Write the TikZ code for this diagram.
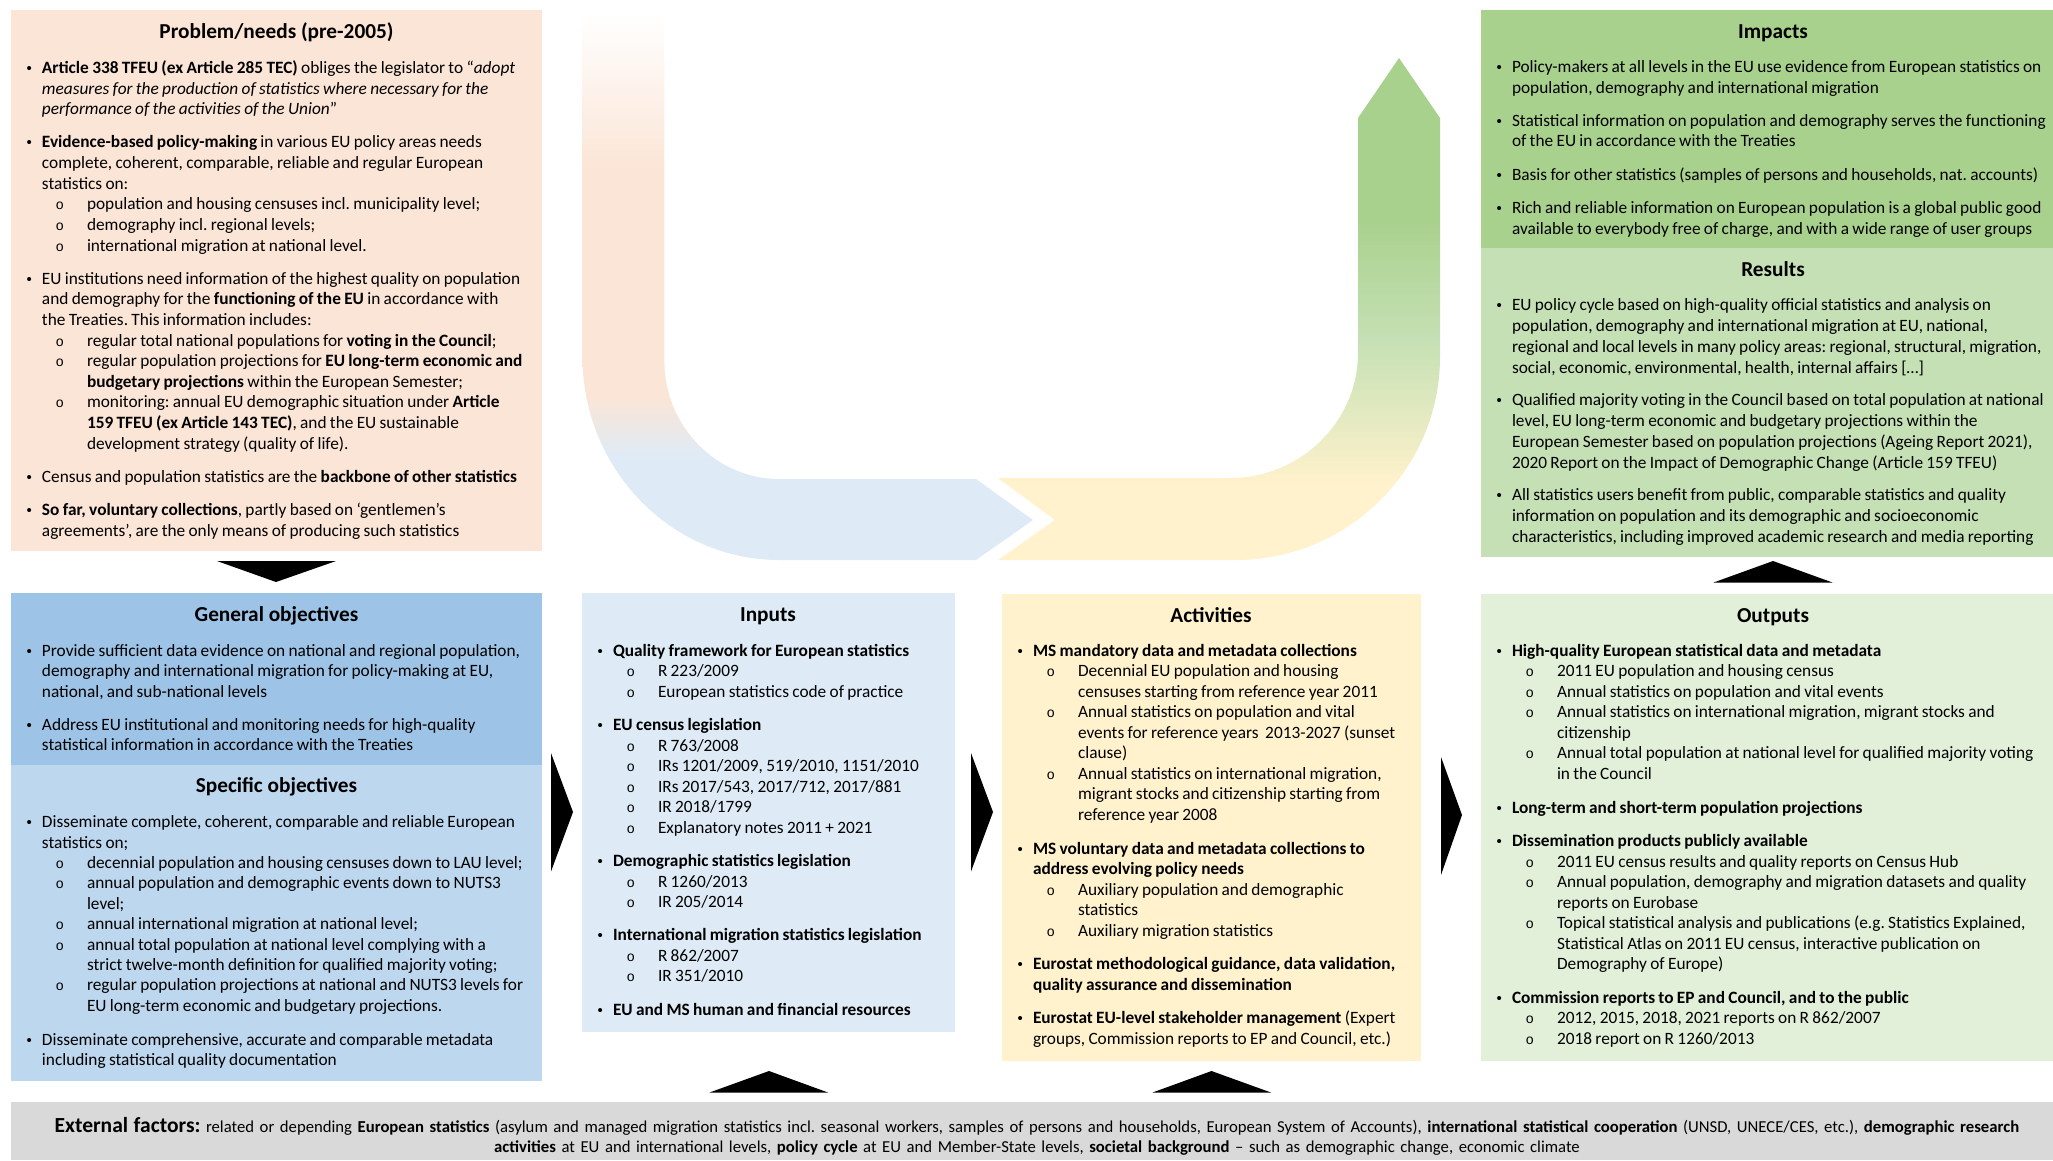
\documentclass[tikz,border=0pt]{standalone}
\usepackage{fontspec}
\setmainfont{Carlito}
\newfontfamily\monof{Liberation Mono}
\newfontfamily\bulf{Liberation Sans}
\frenchspacing
\definecolor{cProb}{HTML}{FBE5D6}
\definecolor{cGen}{HTML}{9DC3E6}
\definecolor{cSpec}{HTML}{BDD7EE}
\definecolor{cInp}{HTML}{DEEBF7}
\definecolor{cAct}{HTML}{FFF2CC}
\definecolor{cOut}{HTML}{E2F0D9}
\definecolor{cImp}{HTML}{A9D18E}
\definecolor{cRes}{HTML}{C5E0B4}
\definecolor{cExt}{HTML}{D9D9D9}
\pgfdeclareverticalshading{leftbend}{100bp}{color(0bp)=(cInp); color(25bp)=(cInp); color(34.2bp)=(cInp); color(40.1bp)=(cProb); color(60.6bp)=(cProb); color(75bp)=(white); color(100bp)=(white)}
\pgfdeclareverticalshading{rightbend}{100bp}{color(0bp)=(cAct); color(25bp)=(cAct); color(32.5bp)=(cAct); color(47.1bp)=(cRes); color(58.7bp)=(cImp); color(75bp)=(cImp); color(100bp)=(cImp)}
\newcommand\bodysize{17.3}
\newcommand\parGap{12.5pt}
\newcommand\pitch[2]{\fontsize{\bodysize}{#1}\selectfont\frenchspacing\def\parGap{#2pt}\parskip=0pt\rightskip=0pt plus 1fil\relax\let\\\newline}
\newcommand\fs{\rule{0pt}{15pt}}
\newcommand\itemF[1]{\par\noindent\hangindent=31pt\hangafter=1\makebox[31pt][l]{\hspace{15.5pt}{\bulf\fontsize{15}{15}\selectfont •}}\fs #1\par}
\newcommand\itemA[1]{\par\vskip\parGap\itemF{#1}}
\newcommand\itemB[1]{\par\noindent\hangindent=76pt\hangafter=1\makebox[76pt][l]{\hspace{44.5pt}{\monof\fontsize{14}{14}\selectfont o}}\fs #1\par}
\tikzset{
  panel/.style 2 args={anchor=north west,inner sep=0,outer sep=0,minimum width=#1,minimum height=#2},
  ptitle/.style={anchor=base,inner sep=0,font=\fontsize{21.3}{24}\selectfont\bfseries},
  pbody/.style={anchor=north west,inner sep=0,outer sep=0,text width=#1,align=left},
  blockarrow/.style={fill=black,draw=none}
}
\begin{document}
\begin{tikzpicture}[x=1pt,y=-1pt]
\useasboundingbox (0,0) rectangle (2053,1160);

% U-shaped background arrows
\shade[shading=leftbend] (582.5,13) -- (582.5,357) .. controls (582.5,469) and (671,560) .. (779,560)
  -- (976,560) -- (1033,520) -- (976,479) -- (779,479) .. controls (716,479) and (664.4,426) .. (664.4,361)
  -- (664.4,13) -- cycle;
\shade[shading=rightbend] (998,560) -- (1055,520) -- (998,478) -- (1230,478) .. controls (1300,478) and (1358,422) .. (1358,353)
  -- (1358,118) -- (1399,58) -- (1440,118) -- (1440,357) .. controls (1440,469) and (1348,560) .. (1236,560) -- cycle;

% Panels
\node[panel={531pt}{541pt},fill=cProb] (prob) at (11,10) {};
\node[panel={531pt}{172pt},fill=cGen] (gen) at (11,593) {};
\node[panel={531pt}{315.5pt},fill=cSpec] (spec) at (11,765) {};
\node[panel={373pt}{439pt},fill=cInp] (inp) at (582,593) {};
\node[panel={419pt}{466.5pt},fill=cAct] (act) at (1002,594) {};
\node[panel={572pt}{466.5pt},fill=cOut] (out) at (1481,594) {};
\node[panel={572pt}{238pt},fill=cImp] (imp) at (1481,10) {};
\node[panel={572pt}{309pt},fill=cRes] (res) at (1481,248) {};
\node[panel={2042pt}{58pt},fill=cExt] (ext) at (11,1102) {};

% Block arrows
\fill[blockarrow] (217,561) -- (336,561) -- (276,582) -- cycle;
\fill[blockarrow] (1713.5,582.5) -- (1832.5,582.5) -- (1773,561) -- cycle;
\fill[blockarrow] (551,753) -- (573,812) -- (551,871.5) -- cycle;
\fill[blockarrow] (971,753) -- (993,812) -- (971,871.5) -- cycle;
\fill[blockarrow] (1441,757) -- (1462,815) -- (1441,875) -- cycle;
\fill[blockarrow] (709.5,1092.5) -- (828,1092.5) -- (769,1071) -- cycle;
\fill[blockarrow] (1152.5,1092.5) -- (1271,1092.5) -- (1211.5,1071) -- cycle;

% Titles
\node[ptitle] (tProb) at (276.5,38) {Problem/needs (pre-2005)};
\node[ptitle] (tGen) at (276.5,621) {General objectives};
\node[ptitle] (tSpec) at (276.5,792.5) {Specific objectives};
\node[ptitle] (tInp) at (768,621.5) {Inputs};
\node[ptitle] (tAct) at (1211,622.5) {Activities};
\node[ptitle] (tOut) at (1773,622.5) {Outputs};
\node[ptitle] (tImp) at (1773,38) {Impacts};
\node[ptitle] (tRes) at (1773,276.5) {Results};

% Problem
\node[pbody=531pt] (bProb) at (11,53) {\pitch{20.62}{12.5}%
\itemF{\textbf{Article 338 TFEU (ex Article 285 TEC)} obliges the legislator to “\textit{adopt}\\
\textit{measures for the production of statistics where necessary for the}\\
\textit{performance of the activities of the Union}”}
\itemA{\textbf{Evidence-based policy-making} in various EU policy areas needs\\
complete, coherent, comparable, reliable and regular European\\
statistics on:}
\itemB{population and housing censuses incl. municipality level;}
\itemB{demography incl. regional levels;}
\itemB{international migration at national level.}
\itemA{EU institutions need information of the highest quality on population\\
and demography for the \textbf{functioning of the EU} in accordance with\\
the Treaties. This information includes:}
\itemB{regular total national populations for \textbf{voting in the Council};}
\itemB{regular population projections for \textbf{EU long-term economic and}\\
\textbf{budgetary projections} within the European Semester;}
\itemB{monitoring: annual EU demographic situation under \textbf{Article}\\
\textbf{159 TFEU (ex Article 143 TEC)}, and the EU sustainable\\
development strategy (quality of life).}
\itemA{Census and population statistics are the \textbf{backbone of other statistics}}
\itemA{\textbf{So far, voluntary collections}, partly based on ‘gentlemen’s\\
agreements’, are the only means of producing such statistics}
};

% General objectives
\node[pbody=531pt] (bGen) at (11,635.5) {\pitch{20.5}{12.8}%
\itemF{Provide sufficient data evidence on national and regional population,\\
demography and international migration for policy-making at EU,\\
national, and sub-national levels}
\itemA{Address EU institutional and monitoring needs for high-quality\\
statistical information in accordance with the Treaties}
};

% Specific objectives
\node[pbody=531pt] (bSpec) at (11,807.2) {\pitch{20.4}{13.6}%
\itemF{Disseminate complete, coherent, comparable and reliable European\\
statistics on;}
\itemB{decennial population and housing censuses down to LAU level;}
\itemB{annual population and demographic events down to NUTS3\\
level;}
\itemB{annual international migration at national level;}
\itemB{annual total population at national level complying with a\\
strict twelve-month definition for qualified majority voting;}
\itemB{regular population projections at national and NUTS3 levels for\\
EU long-term economic and budgetary projections.}
\itemA{Disseminate comprehensive, accurate and comparable metadata\\
including statistical quality documentation}
};

% Inputs
\node[pbody=373pt] (bInp) at (582,635.9) {\pitch{20.5}{12.8}%
\itemF{\textbf{Quality framework for European statistics}}
\itemB{R 223/2009}
\itemB{European statistics code of practice}
\itemA{\textbf{EU census legislation}}
\itemB{R 763/2008}
\itemB{IRs 1201/2009, 519/2010, 1151/2010}
\itemB{IRs 2017/543, 2017/712, 2017/881}
\itemB{IR 2018/1799}
\itemB{Explanatory notes 2011 + 2021}
\itemA{\textbf{Demographic statistics legislation}}
\itemB{R 1260/2013}
\itemB{IR 205/2014}
\itemA{\textbf{International migration statistics legislation}}
\itemB{R 862/2007}
\itemB{IR 351/2010}
\itemA{\textbf{EU and MS human and financial resources}}
};

% Activities
\node[pbody=419pt] (bAct) at (1002,635.9) {\pitch{20.5}{13.1}%
\itemF{\textbf{MS mandatory data and metadata collections}}
\itemB{Decennial EU population and housing\\
censuses starting from reference year 2011}
\itemB{Annual statistics on population and vital\\
events for reference years\ \ 2013-2027 (sunset\\
clause)}
\itemB{Annual statistics on international migration,\\
migrant stocks and citizenship starting from\\
reference year 2008}
\itemA{\textbf{MS voluntary data and metadata collections to}\\
\textbf{address evolving policy needs}}
\itemB{Auxiliary population and demographic\\
statistics}
\itemB{Auxiliary migration statistics}
\itemA{\textbf{Eurostat methodological guidance, data validation,}\\
\textbf{quality assurance and dissemination}}
\itemA{\textbf{Eurostat EU-level stakeholder management} (Expert\\
groups, Commission reports to EP and Council, etc.)}
};

% Outputs
\node[pbody=572pt] (bOut) at (1481,635.9) {\pitch{20.5}{13.1}%
\itemF{\textbf{High-quality European statistical data and metadata}}
\itemB{2011 EU population and housing census}
\itemB{Annual statistics on population and vital events}
\itemB{Annual statistics on international migration, migrant stocks and\\
citizenship}
\itemB{Annual total population at national level for qualified majority voting\\
in the Council}
\itemA{\textbf{Long-term and short-term population projections}}
\itemA{\textbf{Dissemination products publicly available}}
\itemB{2011 EU census results and quality reports on Census Hub}
\itemB{Annual population, demography and migration datasets and quality\\
reports on Eurobase}
\itemB{Topical statistical analysis and publications (e.g. Statistics Explained,\\
Statistical Atlas on 2011 EU census, interactive publication on\\
Demography of Europe)}
\itemA{\textbf{Commission reports to EP and Council, and to the public}}
\itemB{2012, 2015, 2018, 2021 reports on R 862/2007}
\itemB{2018 report on R 1260/2013}
};

% Impacts
\node[pbody=572pt] (bImp) at (1481,52.8) {\pitch{20.1}{13.5}%
\itemF{Policy-makers at all levels in the EU use evidence from European statistics on\\
population, demography and international migration}
\itemA{Statistical information on population and demography serves the functioning\\
of the EU in accordance with the Treaties}
\itemA{Basis for other statistics (samples of persons and households, nat. accounts)}
\itemA{Rich and reliable information on European population is a global public good\\
available to everybody free of charge, and with a wide range of user groups}
};

% Results
\node[pbody=572pt] (bRes) at (1481,289.9) {\pitch{20.8}{11.9}%
\itemF{EU policy cycle based on high-quality official statistics and analysis on\\
population, demography and international migration at EU, national,\\
regional and local levels in many policy areas: regional, structural, migration,\\
social, economic, environmental, health, internal affairs […]}
\itemA{Qualified majority voting in the Council based on total population at national\\
level, EU long-term economic and budgetary projections within the\\
European Semester based on population projections (Ageing Report 2021),\\
2020 Report on the Impact of Demographic Change (Article 159 TFEU)}
\itemA{All statistics users benefit from public, comparable statistics and quality\\
information on population and its demographic and socioeconomic\\
characteristics, including improved academic research and media reporting}
};

% External factors
\node[anchor=north,inner sep=0,text width=2030pt,align=center,font=\fontsize{16.7}{20.6}\selectfont\frenchspacing] (bExt) at (1037,1116.9) {\rule{0pt}{15pt}{\fontsize{21.5}{20.6}\selectfont\textbf{External factors:}} related or depending \textbf{European statistics} (asylum and managed migration statistics incl. seasonal workers, samples of persons and households, European System of Accounts), \textbf{international statistical cooperation} (UNSD, UNECE/CES, etc.), \textbf{demographic research}\\
\textbf{activities} at EU and international levels, \textbf{policy cycle} at EU and Member-State levels, \textbf{societal background} – such as demographic change, economic climate};
\end{tikzpicture}
\end{document}
